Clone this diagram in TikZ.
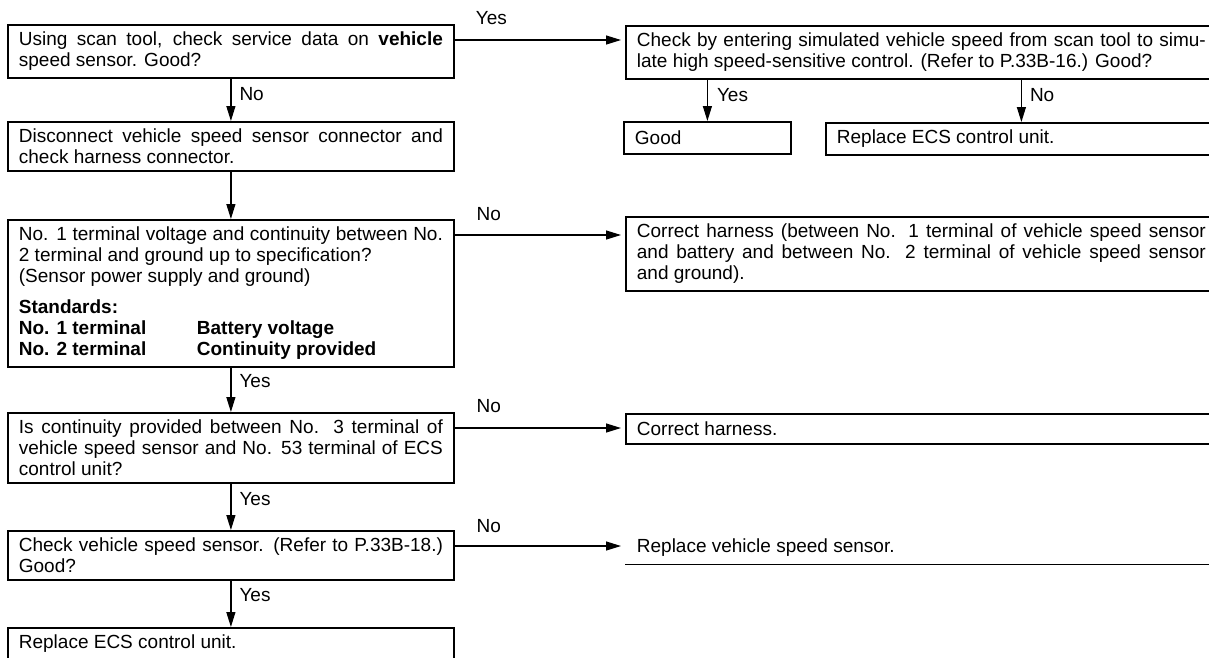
\documentclass[tikz,border=0pt]{standalone}
\usepackage{fontspec}
\setmainfont{Liberation Sans}
\usetikzlibrary{arrows.meta}
\newcommand\fsz{\fontsize{19}{21}\selectfont}
\begin{document}
\begin{tikzpicture}[x=1pt,y=-1pt,
  box/.style={draw, line width=1.8pt, anchor=north west, inner xsep=11pt, inner ysep=7pt, align=justify, font=\fsz},
  lbox/.style={box, text width=424pt},
  rbox/.style={box, text width=569pt},
  arr/.style={line width=1.2pt, -{Triangle[length=15pt,width=9pt]}},
  lab/.style={font=\fsz, inner sep=0pt}]
\useasboundingbox (0,0) rectangle (1209,657);
\clip (0,0) rectangle (1209,657);
\fill[white] (0,0) rectangle (1209,657);

% left column
\node[lbox] (b1) at (7,24) {Using scan tool, check service data on \textbf{vehicle}\linebreak speed sensor. Good?};
\node[lbox] (b2) at (7,121) {Disconnect vehicle speed sensor connector and\linebreak check harness connector.};
\node[lbox] (b3) at (7,219) {No. 1 terminal voltage and continuity between No.\linebreak 2 terminal and ground up to specification?\\ (Sensor power supply and ground)\par\vspace{10pt}\textbf{Standards:}\\ \textbf{\makebox[178pt][l]{No. 1 terminal}Battery voltage}\\ \textbf{\makebox[178pt][l]{No. 2 terminal}Continuity provided}};
\node[lbox] (b4) at (7,412) {Is continuity provided between No. 3 terminal of\linebreak vehicle speed sensor and No. 53 terminal of ECS\linebreak control unit?};
\node[lbox] (b5) at (7,530) {Check vehicle speed sensor. (Refer to P.33B-18.)\linebreak Good?};
\node[lbox] (b6) at (7,627) {Replace ECS control unit.};

% right column
\node[rbox] (r1) at (625,25) {Check by entering simulated vehicle speed from scan tool to simu-\linebreak late high speed-sensitive control. (Refer to P.33B-16.) Good?};
\node[box, text width=145pt, minimum height=32pt] (good) at (623,121) {Good};
\node[box, text width=369pt, minimum height=31pt] (rep) at (825,122) {Replace ECS control unit.};
\node[rbox] (r3) at (625,216) {Correct harness (between No. 1 terminal of vehicle speed sensor\linebreak and battery and between No. 2 terminal of vehicle speed sensor\linebreak and ground).};
\node[rbox, minimum height=30pt] (r4) at (625,413) {Correct harness.};
\node[rbox, draw=none, minimum height=30pt] (r5) at (625,531) {Replace vehicle speed sensor.};
\draw[line width=1.8pt] (r5.south west) -- (r5.south east);

% vertical connectors
\draw[arr] (b1) -- (b2) node[lab, pos=0, anchor=west, xshift=8pt, yshift=-16pt] {No};
\draw[arr] (b2) -- (b3);
\draw[arr] (b3) -- (b4) node[lab, pos=0, anchor=west, xshift=8pt, yshift=-14pt] {Yes};
\draw[arr] (b4) -- (b5) node[lab, pos=0, anchor=west, xshift=8pt, yshift=-15pt] {Yes};
\draw[arr] (b5) -- (b6) node[lab, pos=0, anchor=west, xshift=8pt, yshift=-14pt] {Yes};
\draw[arr] (r1.south -| good.north) -- (good.north) node[lab, pos=0, anchor=west, xshift=9pt, yshift=-16pt] {Yes};
\draw[arr] (r1.south -| rep.north) -- (rep.north) node[lab, pos=0, anchor=west, xshift=8pt, yshift=-16pt] {No};

% horizontal connectors
\coordinate (h1) at ([yshift=-16pt]b1.north east);
\coordinate (h3) at ([yshift=-16pt]b3.north east);
\coordinate (h4) at ([yshift=-16pt]b4.north east);
\coordinate (h5) at ([yshift=-16pt]b5.north east);
\draw[arr, shorten >=4pt] (h1) -- (h1 -| r1.west) node[lab, pos=0.215, yshift=22pt] {Yes};
\draw[arr, shorten >=4pt] (h3) -- (h3 -| r3.west) node[lab, pos=0.2, yshift=21pt] {No};
\draw[arr, shorten >=4pt] (h4) -- (h4 -| r4.west) node[lab, pos=0.2, yshift=22pt] {No};
\draw[arr, shorten >=4pt] (h5) -- (h5 -| r5.west) node[lab, pos=0.2, yshift=20pt] {No};
\end{tikzpicture}
\end{document}
